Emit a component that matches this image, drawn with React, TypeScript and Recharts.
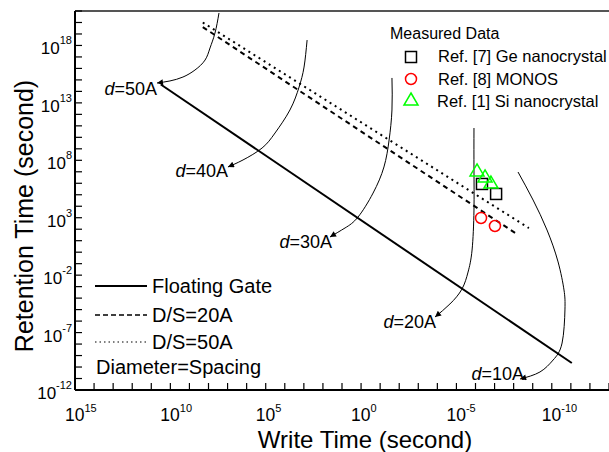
import React from 'react';
import { ComposedChart, Line, Scatter, XAxis, YAxis, ReferenceLine } from 'recharts';

// every value is log10 of seconds
const xTicks = [15, 14, 13, 12, 11, 10, 9, 8, 7, 6, 5, 4, 3, 2, 1, 0, -1, -2, -3, -4, -5, -6, -7, -8, -9, -10, -11, -12, -13];
const yTicks = [21, 20, 19, 18, 17, 16, 15, 14, 13, 12, 11, 10, 9, 8, 7, 6, 5, 4, 3, 2, 1, 0, -1, -2, -3, -4, -5, -6, -7, -8, -9, -10, -11, -12];
const xLabelled = [15, 10, 5, 0, -5, -10];
const yLabelled = [18, 13, 8, 3, -2, -7, -12];

const floatingGate = [{ x: 10.5, y: 14.6 }, { x: -11.05, y: -9.65 }];
const ds20 = [{ x: 8.3, y: 19.6 }, { x: -8.1, y: 1.65 }];
const ds50 = [{ x: 8.3, y: 20.0 }, { x: -8.8, y: 2.1 }];

const geNano = [{ x: -6.34, y: 5.94 }, { x: -7.08, y: 5.07 }];
const monos = [{ x: -6.29, y: 2.98 }, { x: -7.02, y: 2.28 }];
const siNano = [{ x: -6.08, y: 7.07 }, { x: -6.5, y: 6.55 }, { x: -6.81, y: 6.02 }];

// arrows from each diameter curve to its label
const arrow50 = [
  { x: 7.45, y: 20.83 }, { x: 7.66, y: 19.08 }, { x: 7.92, y: 17.78 }, { x: 8.18, y: 16.73 },
  { x: 8.71, y: 15.86 }, { x: 9.34, y: 15.25 }, { x: 10.02, y: 14.91 }, { x: 10.7, y: 14.73 },
];
const arrow40 = [
  { x: 2.83, y: 18.47 }, { x: 2.99, y: 16.12 }, { x: 3.25, y: 14.38 }, { x: 3.73, y: 12.38 },
  { x: 4.51, y: 10.38 }, { x: 5.19, y: 9.07 }, { x: 6.19, y: 8.03 }, { x: 6.98, y: 7.42 },
];
const arrow30 = [
  { x: -1.62, y: 15.17 }, { x: -1.62, y: 12.38 }, { x: -1.47, y: 9.77 }, { x: -1.2, y: 7.42 },
  { x: -0.63, y: 5.15 }, { x: 0.16, y: 3.06 }, { x: 0.84, y: 2.11 }, { x: 1.63, y: 1.32 },
];
const arrow20 = [
  { x: -5.92, y: 10.81 }, { x: -5.92, y: 7.16 }, { x: -5.92, y: 3.67 }, { x: -5.82, y: 0.19 },
  { x: -5.61, y: -1.73 }, { x: -5.29, y: -3.21 }, { x: -4.66, y: -4.51 }, { x: -3.88, y: -5.64 },
];
const arrow10 = [
  { x: -8.23, y: 6.98 }, { x: -9.02, y: 4.54 }, { x: -9.75, y: 1.93 }, { x: -10.33, y: -0.85 },
  { x: -10.64, y: -3.29 }, { x: -10.69, y: -5.03 }, { x: -10.54, y: -7.91 }, { x: -10.07, y: -9.39 },
  { x: -9.38, y: -10.43 }, { x: -8.34, y: -11.04 },
];

const diameterLabels = [
  { x: 10.7, y: 13.69, text: '=50A' },
  { x: 6.98, y: 6.55, text: '=40A' },
  { x: 1.52, y: 0.36, text: '=30A' },
  { x: -3.93, y: -6.6, text: '=20A' },
  { x: -8.55, y: -11.13, text: '=10A' },
];

const FONT = '"Liberation Sans", Arial, sans-serif';

const XTick = (props: any) => {
  const { x, y, payload } = props;
  const v = payload.value;
  return (
    <g>
      <line x1={x} x2={x} y1={y} y2={y - 7} stroke="#000" strokeWidth={1.2} />
      {xLabelled.includes(v) && (
        <text x={x - 10} y={y + 31} fontSize={17.5} fontFamily={FONT} fill="#000">
          10<tspan dy={-9} fontSize={11}>{v}</tspan>
        </text>
      )}
    </g>
  );
};

const YTick = (props: any) => {
  const { x, y, payload } = props;
  const v = payload.value;
  return (
    <g>
      <line x1={x} x2={x + 7} y1={y} y2={y} stroke="#000" strokeWidth={1.2} />
      {yLabelled.includes(v) && (
        <text x={x - 3} y={y + 9} textAnchor="end" fontSize={17} fontFamily={FONT} fill="#000">
          10<tspan dy={-10} fontSize={11}>{v}</tspan>
        </text>
      )}
    </g>
  );
};

const Square = (p: any) => (
  <rect x={p.cx - 5.5} y={p.cy - 5.5} width={11} height={11} fill="none" stroke="#000" strokeWidth={1.5} />
);
const Ring = (p: any) => <circle cx={p.cx} cy={p.cy} r={5.5} fill="none" stroke="#ff0000" strokeWidth={1.5} />;
const Tri = (p: any) => (
  <polygon
    points={`${p.cx},${p.cy - 7} ${p.cx + 7},${p.cy + 5} ${p.cx - 7},${p.cy + 5}`}
    fill="none"
    stroke="#00ff00"
    strokeWidth={1.5}
  />
);
const DLabel = (p: any) => (
  <text x={p.cx} y={p.cy} textAnchor="end" fontSize={18} fontFamily={FONT} fill="#000">
    <tspan fontStyle="italic">d</tspan>
    {p.payload.text}
  </text>
);

const arrows = [arrow50, arrow40, arrow30, arrow20, arrow10];

export default function App() {
  return (
    <div style={{ position: 'absolute', left: 0, top: 0, width: 609, height: 452, background: '#fff' }}>
      <ComposedChart width={609} height={452} margin={{ top: 11, right: 0, left: 0, bottom: 0 }}>
        <XAxis
          type="number"
          dataKey="x"
          domain={[-13, 15]}
          reversed
          allowDataOverflow
          ticks={xTicks}
          interval={0}
          height={62}
          tickSize={0}
          tickMargin={0}
          tickLine={false}
          tick={<XTick />}
          axisLine={{ stroke: '#000', strokeWidth: 2 }}
        />
        <YAxis
          type="number"
          dataKey="y"
          domain={[-12, 21]}
          allowDataOverflow
          ticks={yTicks}
          interval={0}
          width={75}
          tickSize={0}
          tickMargin={0}
          tickLine={false}
          tick={<YTick />}
          axisLine={{ stroke: '#000', strokeWidth: 2 }}
        />
        <ReferenceLine y={21} stroke="#555" strokeWidth={2} />
        <Line data={floatingGate} dataKey="y" stroke="#000" strokeWidth={2} dot={false} activeDot={false} isAnimationActive={false} />
        <Line data={ds20} dataKey="y" stroke="#000" strokeWidth={2} strokeDasharray="5 4" dot={false} activeDot={false} isAnimationActive={false} />
        <Line data={ds50} dataKey="y" stroke="#000" strokeWidth={2} strokeDasharray="2 4" dot={false} activeDot={false} isAnimationActive={false} />
        {arrows.map((a, i) => (
          <Line
            key={i}
            data={a}
            dataKey="y"
            type="natural"
            stroke="#000"
            strokeWidth={1}
            markerEnd="url(#arrowhead)"
            dot={false}
            activeDot={false}
            isAnimationActive={false}
          />
        ))}
        <Scatter data={geNano} dataKey="y" shape={Square} isAnimationActive={false} />
        <Scatter data={monos} dataKey="y" shape={Ring} isAnimationActive={false} />
        <Scatter data={siNano} dataKey="y" shape={Tri} isAnimationActive={false} />
        <Scatter data={diameterLabels} dataKey="y" shape={DLabel} isAnimationActive={false} />
      </ComposedChart>
      <svg
        width={609}
        height={452}
        style={{ position: 'absolute', left: 0, top: 0, pointerEvents: 'none' }}
        fontFamily={FONT}
      >
        <defs>
          <marker id="arrowhead" viewBox="0 0 10 10" refX="10" refY="5" markerWidth="9" markerHeight="6" markerUnits="userSpaceOnUse" orient="auto">
            <path d="M0,0 L10,5 L0,10 z" fill="#000" />
          </marker>
        </defs>
        <text x={365} y={448} textAnchor="middle" fontSize={24}>Write Time (second)</text>
        <text x={33} y={216} textAnchor="middle" fontSize={25} transform="rotate(-90 33 216)">Retention Time (second)</text>

        <text x={390} y={39} fontSize={16}>Measured Data</text>
        <rect x={405.5} y={51.5} width={11} height={11} fill="none" stroke="#000" strokeWidth={1.5} />
        <text x={438} y={62} fontSize={16.5}>Ref. [7] Ge nanocrystal</text>
        <circle cx={411} cy={79} r={5.5} fill="none" stroke="#ff0000" strokeWidth={1.5} />
        <text x={438} y={85} fontSize={16.5}>Ref. [8] MONOS</text>
        <polygon points="411,93 418,105 404,105" fill="none" stroke="#00ff00" strokeWidth={1.5} />
        <text x={437} y={107} fontSize={16.5}>Ref. [1] Si nanocrystal</text>

        <line x1={95} x2={147} y1={286} y2={286} stroke="#000" strokeWidth={2} />
        <text x={152} y={293} fontSize={20}>Floating Gate</text>
        <line x1={95} x2={147} y1={315} y2={315} stroke="#000" strokeWidth={1.5} strokeDasharray="5 3" />
        <text x={152} y={322} fontSize={20}>D/S=20A</text>
        <line x1={95} x2={147} y1={342} y2={342} stroke="#000" strokeWidth={1.2} strokeDasharray="1.5 3" />
        <text x={152} y={349} fontSize={20}>D/S=50A</text>
        <text x={96} y={374} fontSize={20}>Diameter=Spacing</text>
      </svg>
    </div>
  );
}
